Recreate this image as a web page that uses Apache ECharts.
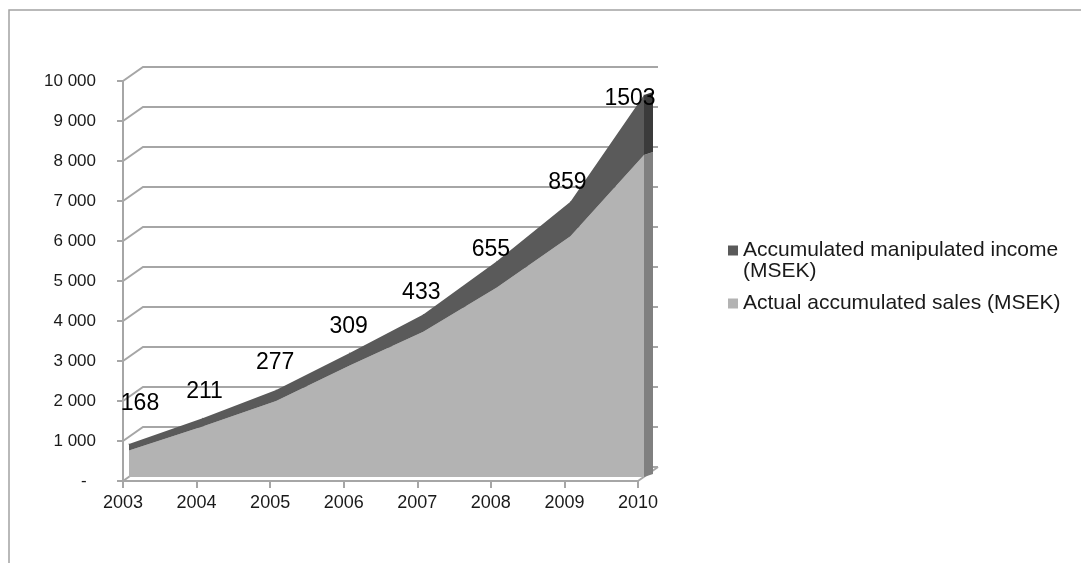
<!DOCTYPE html>
<html>
<head>
<meta charset="utf-8">
<script src="https://cdn.jsdelivr.net/npm/echarts@6/dist/echarts.min.js"></script>
<style>
  html, body { margin: 0; padding: 0; background: #ffffff; }
  #chart { width: 1081px; height: 563px; }
</style>
</head>
<body>
<div id="chart"></div>
<script>
// Years on the category axis
const years = ['2003', '2004', '2005', '2006', '2007', '2008', '2009', '2010'];
// Actual accumulated sales, MSEK (lower band)
const salesValues = [660, 1260, 1900, 2790, 3630, 4740, 6020, 8050];
// Accumulated manipulated income, MSEK (upper band, labelled)
const manipulatedValues = [168, 211, 277, 309, 433, 655, 859, 1503];
// Value-axis ticks
const yTicks = [0, 1000, 2000, 3000, 4000, 5000, 6000, 7000, 8000, 9000, 10000];
const seriesNames = ['Accumulated manipulated income (MSEK)', 'Actual accumulated sales (MSEK)'];

// Pseudo-3D geometry (pixel offsets)
const WALL = [20, -14];       // front plane -> back wall
const SLAB_DEPTH = [9, -3];   // thickness of the area slab
const FONT = "'Liberation Sans', Arial, sans-serif";
const GRID_COLOR = '#a6a6a6';
const LIGHT = '#b3b3b3';
const DARK = '#5a5a5a';

// Small nudges for the data labels
const labelNudge = [[11, -16], [2, -3], [-1, -3], [-1, -2], [-2, 2], [-6, 12], [-3, 5], [-14, 28]];

const fmtThousands = v => v === 0 ? '-  ' : String(v).replace(/\B(?=(\d{3})+(?!\d))/g, ' ');

const chart = echarts.init(document.getElementById('chart'), null, { renderer: 'canvas' });

const option = {
  animation: false,
  backgroundColor: '#ffffff',
  textStyle: { fontFamily: FONT },
  graphic: [{
    type: 'rect',
    silent: true,
    shape: { x: 9, y: 10, width: 1300, height: 700 },
    style: { fill: 'none', stroke: '#a3a3a3', lineWidth: 1.5 },
    z: -10
  }],
  legend: {
    orient: 'vertical',
    left: 728,
    top: 219,
    padding: 0,
    itemGap: 11,
    itemWidth: 10,
    itemHeight: 10,
    icon: 'rect',
    textStyle: { fontSize: 21, color: '#1a1a1a', fontFamily: FONT, lineHeight: 21 },
    // a blank first line keeps the marker level with the first line of text
    formatter: name => name === seriesNames[0] ? ' \nAccumulated manipulated income\n(MSEK)' : name,
    data: [seriesNames[0], seriesNames[1]]
  },
  grid: [
    // front plane: visible axes
    { left: 123, width: 515, top: 81, height: 400 },
    // front face of the area slab
    { left: 129, width: 515, top: 77, height: 400 }
  ],
  xAxis: [{
    gridIndex: 0,
    type: 'category',
    data: years,
    boundaryGap: false,
    axisLine: { show: true, lineStyle: { color: GRID_COLOR, width: 2 } },
    axisTick: { show: true, length: 7, lineStyle: { color: GRID_COLOR, width: 2 } },
    axisLabel: { fontSize: 18, color: '#1a1a1a', margin: 13, fontFamily: FONT },
    splitLine: { show: false }
  }, {
    gridIndex: 1,
    type: 'category',
    data: years,
    boundaryGap: false,
    show: false
  }],
  yAxis: [{
    gridIndex: 0,
    type: 'value',
    min: 0,
    max: 10000,
    interval: 1000,
    axisLine: { show: true, lineStyle: { color: GRID_COLOR, width: 2 } },
    axisTick: { show: true, length: 6, lineStyle: { color: GRID_COLOR, width: 2 } },
    axisLabel: { fontSize: 17, color: '#1a1a1a', margin: 27, fontFamily: FONT, formatter: fmtThousands },
    splitLine: { show: false }
  }, {
    gridIndex: 1,
    type: 'value',
    min: 0,
    max: 10000,
    interval: 1000,
    show: false,
    splitLine: { show: false }
  }],
  series: [
    // back wall gridlines with their slanted joins to the front axis
    {
      type: 'custom',
      xAxisIndex: 0,
      yAxisIndex: 0,
      silent: true,
      z: 1,
      encode: { x: 0, y: 1 },
      data: yTicks.map(v => [0, v]),
      renderItem: (params, api) => {
        const v = api.value(1);
        const p = api.coord([0, v]);
        const e = api.coord([years.length - 1, v]);
        const q = [p[0] + WALL[0], p[1] + WALL[1]];
        const r = [e[0] + WALL[0], e[1] + WALL[1]];
        const children = [{
          type: 'polyline',
          shape: { points: [p, q, r] },
          style: { fill: 'none', stroke: GRID_COLOR, lineWidth: 2 }
        }];
        if (v === 0) {
          children.push({
            type: 'line',
            shape: { x1: e[0], y1: e[1], x2: r[0], y2: r[1] },
            style: { stroke: GRID_COLOR, lineWidth: 2 }
          });
        }
        return { type: 'group', children };
      }
    },
    {
      name: seriesNames[1],
      type: 'line',
      xAxisIndex: 1,
      yAxisIndex: 1,
      stack: 'total',
      symbol: 'none',
      z: 5,
      color: LIGHT,
      itemStyle: { color: LIGHT },
      lineStyle: { width: 0, color: LIGHT },
      areaStyle: { color: LIGHT, opacity: 1 },
      data: salesValues
    },
    {
      name: seriesNames[0],
      type: 'line',
      xAxisIndex: 1,
      yAxisIndex: 1,
      stack: 'total',
      symbol: 'circle',
      symbolSize: 1,
      showSymbol: true,
      z: 5,
      color: DARK,
      itemStyle: { color: DARK },
      lineStyle: { width: 0, color: DARK },
      areaStyle: { color: DARK, opacity: 1 },
      label: {
        show: true,
        position: 'top',
        distance: 12,
        fontSize: 23,
        color: '#000000',
        fontFamily: FONT
      },
      labelLayout: params => ({
        hideOverlap: false,
        dx: labelNudge[params.dataIndex][0],
        dy: labelNudge[params.dataIndex][1]
      }),
      data: manipulatedValues
    },
    // right-hand side face of the slab
    {
      type: 'custom',
      xAxisIndex: 1,
      yAxisIndex: 1,
      silent: true,
      z: 4,
      encode: { x: 0, y: [1, 2] },
      data: [[years.length - 1, salesValues[years.length - 1], salesValues[years.length - 1] + manipulatedValues[years.length - 1]]],
      renderItem: (params, api) => {
        const x = api.value(0);
        const a = api.coord([x, 0]);
        const b = api.coord([x, api.value(1)]);
        const c = api.coord([x, api.value(2)]);
        const sh = pt => [pt[0] + SLAB_DEPTH[0], pt[1] + SLAB_DEPTH[1]];
        return {
          type: 'group',
          children: [
            { type: 'polygon', shape: { points: [a, b, sh(b), sh(a)] }, style: { fill: '#808080' } },
            { type: 'polygon', shape: { points: [b, c, sh(c), sh(b)] }, style: { fill: '#3b3b3b' } }
          ]
        };
      }
    }
  ]
};

chart.setOption(option);
</script>
</body>
</html>
